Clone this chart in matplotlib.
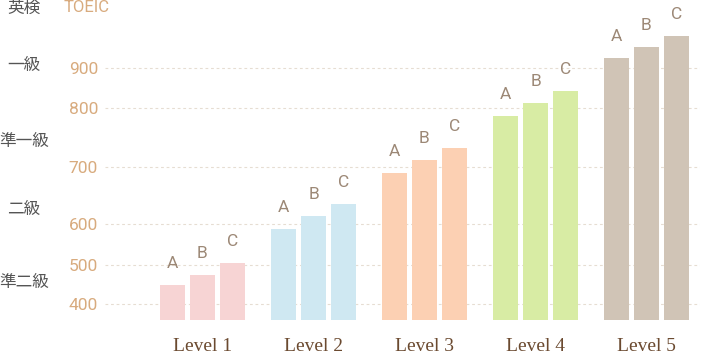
import numpy as np
import matplotlib
matplotlib.use('Agg')
import matplotlib.pyplot as plt

plt.rcParams['font.family'] = ['Roboto', 'Noto Sans CJK JP', 'DejaVu Sans']

# data
levels = ['Level 1', 'Level 2', 'Level 3', 'Level 4', 'Level 5']
sub_labels = ['A', 'B', 'C']
scores_a = [449, 588, 690, 786, 925]
scores_b = [474, 614, 712, 812, 952]
scores_c = [505, 635, 732, 842, 981]
toeic_ticks = [400, 500, 600, 700, 800, 900]
eiken_labels = ['一級', '準一級', '二級', '準二級']
eiken_scores = [907, 743, 625, 454]

bar_colors = ['#f7d4d4', '#cfe8f2', '#fcd0b3', '#d8eca4', '#d0c4b6']

# the score axis is not linear in the original, map scores to heights
knot_scores = [360, 400, 500, 600, 700, 800, 900, 1100]
knot_heights = [0, 16, 55, 96, 153, 212, 252, 332]

def forward(v):
    return np.interp(v, knot_scores, knot_heights)

def inverse(h):
    return np.interp(h, knot_heights, knot_scores)

fig = plt.figure(figsize=(7.04, 3.57), dpi=100)
ax = fig.add_axes([105 / 704, 37 / 357, 595 / 704, 320 / 357])
ax.set_yscale('function', functions=(forward, inverse))

base = knot_scores[0]
x = np.arange(len(levels))
step = 30 / 111
width = 25 / 111

for i, series in enumerate([scores_a, scores_b, scores_c]):
    xs = x + (i - 1) * step
    heights = [s - base for s in series]
    ax.bar(xs, heights, width, bottom=base, color=bar_colors, zorder=2)
    for xi, s in zip(xs, series):
        ax.annotate(sub_labels[i], (xi, s), xytext=(0, 10), textcoords='offset points',
                    ha='center', va='bottom', fontsize=12.5, color='#9c8876')

ax.set_xlim(-(202.5 - 105) / 111, (700 - 202.5) / 111)
ax.set_ylim(base, 1070)

ax.set_xticks(x)
ax.set_xticklabels(levels, family='Liberation Serif', fontsize=14, color='#6b4a30')
ax.set_yticks(toeic_ticks)
ax.set_yticklabels([str(t) for t in toeic_ticks], fontsize=12.5, color='#d8ab7e')
ax.tick_params(axis='x', length=0, pad=13)
ax.tick_params(axis='y', length=0, pad=5)
ax.minorticks_off()

ax.grid(axis='y', color='#e6ddd2', linestyle=(0, (2.5, 2.5)), linewidth=0.8)
ax.set_axisbelow(True)
for sp in ax.spines.values():
    sp.set_visible(False)

# header and eiken labels on the left
fig.text(24 / 704, 1 - 8 / 357, '英検', ha='center', va='center', fontsize=12,
         color='#555555', family=['Noto Sans CJK JP', 'DejaVu Sans'])
fig.text(64 / 704, 1 - 8 / 357, 'TOEIC', ha='left', va='center', fontsize=12,
         color='#d8ab7e')
for lab, s in zip(eiken_labels, eiken_scores):
    y_fig = fig.transFigure.inverted().transform(ax.transData.transform((0, s)))[1]
    fig.text(24 / 704, y_fig, lab, ha='center', va='center', fontsize=12,
             color='#555555', family=['Noto Sans CJK JP', 'DejaVu Sans'])

fig.savefig('out.png', dpi=100)
